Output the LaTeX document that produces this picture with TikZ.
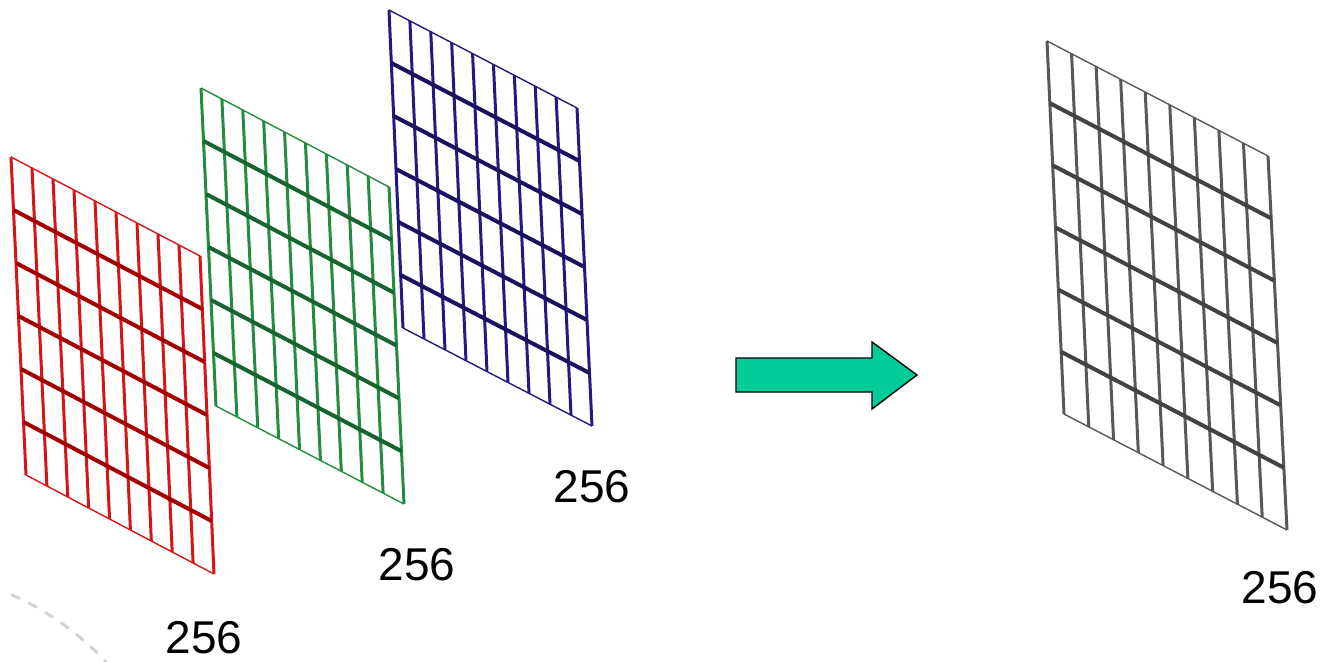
\documentclass[tikz,border=0pt]{standalone}
\usepackage{fontspec}
\setmainfont{Liberation Sans}
\usetikzlibrary{calc}
\definecolor{redV}{RGB}{212,22,22}
\definecolor{redH}{RGB}{165,0,0}
\definecolor{greenV}{RGB}{36,140,64}
\definecolor{greenH}{RGB}{24,100,46}
\definecolor{blueV}{RGB}{34,26,128}
\definecolor{blueH}{RGB}{26,18,96}
\definecolor{greyV}{RGB}{88,88,88}
\definecolor{greyH}{RGB}{66,66,66}
\definecolor{arrowfill}{RGB}{0,204,153}
\definecolor{arcgrey}{RGB}{210,210,210}
\newcommand{\fmgrid}[3]{%
  \foreach \i in {0,...,9}
    \draw[vline,#2] ($(#1TL)!\i/9!(#1TR)$) -- ($(#1BL)!\i/9!(#1BR)$);
  \foreach \j in {1,...,5}
    \draw[hline,#3] ($(#1TL)!\j/6!(#1BL)$) -- ($(#1TR)!\j/6!(#1BR)$);
  \draw[edgeline,#2] (#1TL) -- (#1TR);
  \draw[edgeline,#2] (#1BL) -- (#1BR);
}
\tikzset{
  vline/.style={line width=3pt},
  hline/.style={line width=4pt},
  edgeline/.style={line width=1.4pt},
  numlabel/.style={font=\fontsize{46}{50}\selectfont, inner sep=0pt, anchor=center},
  bigarrow/.style={fill=arrowfill, draw=black, line width=1.4pt, line join=miter},
  arcline/.style={draw=arcgrey, line width=3pt, dash pattern=on 8pt off 11pt, line cap=round}
}
\begin{document}
\begin{tikzpicture}[x=1pt,y=-1pt]
\useasboundingbox (0,0) rectangle (1324,661);
% red grid
\coordinate (rTL) at (11,157);
\coordinate (rTR) at (200,256);
\coordinate (rBL) at (26,475);
\coordinate (rBR) at (214,574);
% green grid
\coordinate (gTL) at (201,88);
\coordinate (gTR) at (389,187);
\coordinate (gBL) at (216,406);
\coordinate (gBR) at (404,504);
% blue grid
\coordinate (bTL) at (389,10);
\coordinate (bTR) at (577,108);
\coordinate (bBL) at (403,328);
\coordinate (bBR) at (592,426);
% grey grid
\coordinate (kTL) at (1047,41);
\coordinate (kTR) at (1268,156);
\coordinate (kBL) at (1064,414);
\coordinate (kBR) at (1287,530);
\fmgrid{r}{redV}{redH}
\fmgrid{g}{greenV}{greenH}
\fmgrid{b}{blueV}{blueH}
\fmgrid{k}{greyV}{greyH}
% labels
\node[numlabel] (lr) at (204,637.5) {256};
\node[numlabel] (lg) at (417,564.5) {256};
\node[numlabel] (lb) at (592,487) {256};
\node[numlabel] (lk) at (1280,587.5) {256};
% arrow
\draw[bigarrow] (736,358) -- (872,358) -- (872,342) -- (917,375) -- (872,409) -- (872,392) -- (736,392) -- cycle;
% faint dashed arc
\draw[arcline] (12,595) .. controls (48,611) and (80,634) .. (106,662);
\end{tikzpicture}
\end{document}
